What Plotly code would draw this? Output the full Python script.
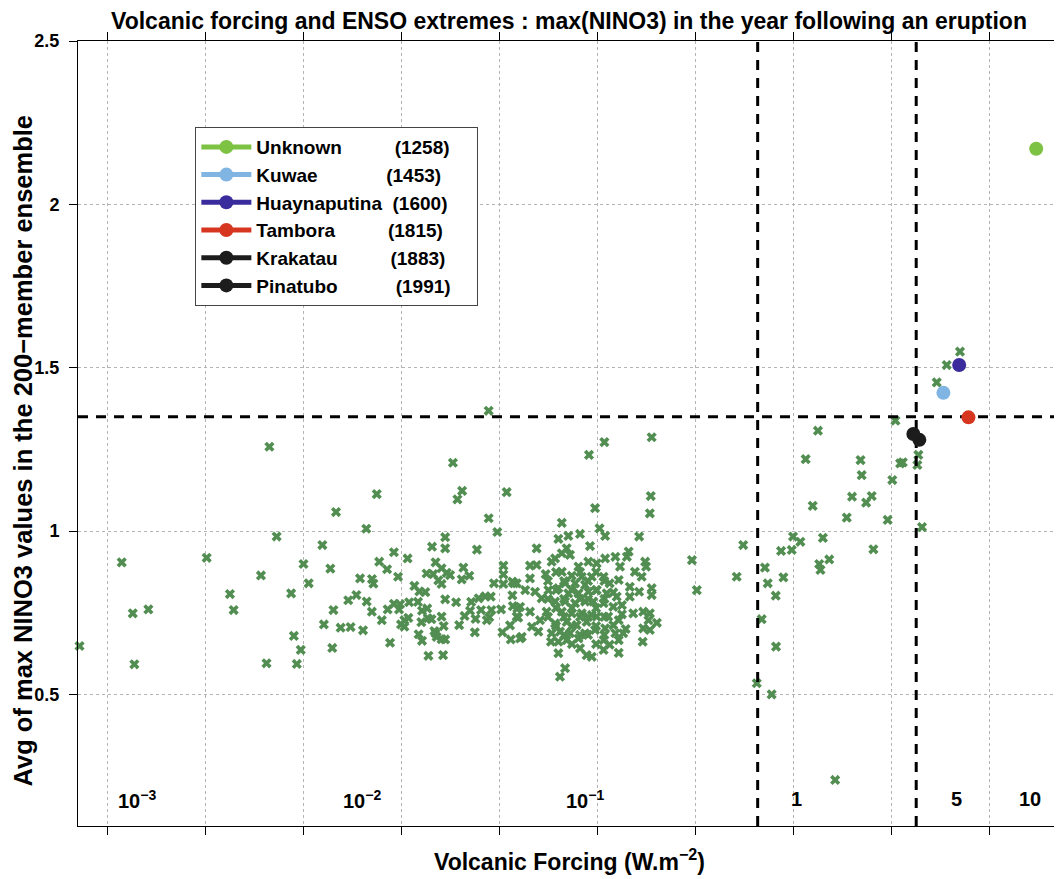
import numpy as np
import plotly.graph_objects as go

# ---------------- data ----------------
# Green crosses: volcanic forcing (W m-2) and average max NINO3
forcing = [
    # low-forcing sparse points
    0.00213, 0.00232, 0.000376, 0.00102, 0.00193, 0.00134, 0.000428, 0.000514, 0.00140, 0.000229, 0.000436, 0.00206,
    # 10^-2.5 .. 10^-1.4 band
    0.0280, 0.0184, 0.0205, 0.0194, 0.00752, 0.00466, 0.00665, 0.0280, 0.0310, 0.0346,
    0.00397, 0.0168, 0.0168, 0.0144, 0.0244, 0.00920, 0.0108, 0.00318, 0.00436, 0.00774,
    0.00849, 0.0150, 0.0161, 0.0171, 0.0178, 0.0135, 0.0146, 0.0208, 0.0223, 0.0204,
    0.0155, 0.0161, 0.00966, 0.00618, 0.00711, 0.00723, 0.00338, 0.00275, 0.0117, 0.0124,
    0.0133, 0.00592, 0.00538, 0.00668, 0.00452, 0.00710, 0.00855, 0.00920, 0.00989, 0.0110,
    0.0122, 0.00977, 0.0128, 0.0136, 0.0168, 0.0191, 0.0228, 0.0249, 0.0269, 0.0287,
    0.0298, 0.0333, 0.0333, 0.0333, 0.0370, 0.0377, 0.0370, 0.0256, 0.0289, 0.0324,
    0.0225, 0.0211, 0.0240, 0.0274, 0.0282, 0.0372, 0.0392, 0.0396, 0.0360, 0.0329,
    0.0363, 0.0405, 0.0238, 0.0198, 0.0161, 0.0165, 0.0143, 0.0127, 0.0137, 0.0109,
    0.0104, 0.0100, 0.0104, 0.00798, 0.00640, 0.00553, 0.00492, 0.00404, 0.00284, 0.00308,
    0.00294, 0.00446, 0.00879, 0.0123, 0.0128, 0.0148, 0.0152, 0.0161, 0.0168, 0.0138,
    0.0164, 0.0150,
    # dense cloud 0.04 .. 0.1
    0.0910, 0.0977, 0.0661, 0.0819, 0.0714, 0.0635, 0.0921, 0.0492, 0.0700, 0.0661,
    0.0728, 0.0611, 0.0587, 0.0455, 0.0492, 0.0804, 0.0903, 0.0661, 0.0547, 0.0455,
    0.0743, 0.0836, 0.0940, 0.0687, 0.0773, 0.0869, 0.0430, 0.0483, 0.0565, 0.0635,
    0.0714, 0.0804, 0.0903, 0.0389, 0.0522, 0.0611, 0.0687, 0.0773, 0.0869, 0.0957,
    0.0405, 0.0455, 0.0553, 0.0661, 0.0743, 0.0836, 0.0940, 0.0389, 0.0512, 0.0611,
    0.0700, 0.0787, 0.0885, 0.0465, 0.0413, 0.0502, 0.0587, 0.0647, 0.0728, 0.0869,
    0.0582, 0.0635, 0.0700, 0.0804, 0.0819, 0.0885, 0.0635, 0.0687, 0.0647,
    # solid core of the cloud
    0.0618, 0.0819, 0.0989, 0.0562, 0.0679, 0.0900, 0.109, 0.0618, 0.0745, 0.0989,
    0.0562, 0.0679, 0.0819, 0.0900, 0.109, 0.0618, 0.0745, 0.0989, 0.0562, 0.0679,
    0.0819, 0.0900, 0.109, 0.0618, 0.0745, 0.0989, 0.0679, 0.0819, 0.0900, 0.109,
    0.0745, 0.0989, 0.121, 0.134, 0.121, 0.140, 0.116,
    # dense cloud 0.1 .. 0.2
    0.190, 0.109, 0.188, 0.186, 0.103, 0.110, 0.164, 0.145, 0.142, 0.110,
    0.124, 0.176, 0.178, 0.0996, 0.156, 0.131, 0.169, 0.190, 0.147, 0.164,
    0.190, 0.147, 0.108, 0.116, 0.129, 0.0996, 0.112, 0.126, 0.108, 0.121,
    0.134, 0.153, 0.172, 0.186, 0.183, 0.202, 0.172, 0.186, 0.0996, 0.114,
    0.129, 0.0977, 0.110, 0.124, 0.136, 0.108, 0.129, 0.171, 0.108, 0.129,
    0.0940,
    # upper branch 0.3 .. 5
    3.33, 1.34, 1.16, 2.21, 2.24, 3.52, 3.63, 3.21, 2.00, 2.52,
    2.36, 1.26, 1.88, 3.04, 1.00, 1.09, 1.42, 0.557, 0.869, 0.985,
    2.57, 0.305, 0.719, 1.36, 1.38, 1.53, 0.516, 0.893, 0.743, 0.323,
    0.816, 0.692, 0.819, 0.653, 0.778, 1.64,
    7.11, 6.08, 5.41, 4.36, 4.31, 4.55,
]
nino3 = [
    1.258, 0.983, 0.904, 0.918, 0.864, 0.807, 0.748, 0.760, 0.758, 0.648, 0.592, 0.595,
    1.368, 1.209, 1.123, 1.097, 1.113, 1.058, 1.007, 1.039, 0.997, 1.119,
    0.957, 0.981, 0.947, 0.952, 0.943, 0.935, 0.916, 0.899, 0.885, 0.906,
    0.883, 0.904, 0.886, 0.872, 0.865, 0.870, 0.868, 0.888, 0.863, 0.852,
    0.849, 0.838, 0.860, 0.855, 0.853, 0.839, 0.840, 0.809, 0.832, 0.815,
    0.813, 0.804, 0.788, 0.784, 0.758, 0.753, 0.760, 0.777, 0.776, 0.782,
    0.783, 0.760, 0.756, 0.763, 0.791, 0.782, 0.783, 0.794, 0.800, 0.799,
    0.840, 0.894, 0.867, 0.838, 0.845, 0.840, 0.803, 0.758, 0.758, 0.760,
    0.756, 0.740, 0.731, 0.727, 0.736, 0.770, 0.763, 0.735, 0.711, 0.690,
    0.668, 0.671, 0.690, 0.712, 0.738, 0.709, 0.730, 0.721, 0.733, 0.734,
    0.727, 0.714, 0.707, 0.727, 0.696, 0.706, 0.704, 0.714, 0.679, 0.636,
    0.593, 0.642, 0.658, 0.684, 0.664, 0.694, 0.676, 0.669, 0.668, 0.618,
    0.620, 0.687,
    1.233, 1.070, 1.025, 0.991, 0.985, 0.976, 0.954, 0.947, 0.947, 0.932,
    0.927, 0.916, 0.906, 0.894, 0.896, 0.891, 0.906, 0.875, 0.868, 0.855,
    0.863, 0.860, 0.860, 0.840, 0.840, 0.835, 0.819, 0.814, 0.819, 0.825,
    0.809, 0.809, 0.814, 0.840, 0.794, 0.784, 0.784, 0.779, 0.784, 0.784,
    0.768, 0.753, 0.753, 0.753, 0.748, 0.748, 0.743, 0.738, 0.727, 0.717,
    0.722, 0.712, 0.722, 0.707, 0.676, 0.692, 0.687, 0.692, 0.687, 0.687,
    0.661, 0.661, 0.666, 0.671, 0.641, 0.620, 0.626, 0.580, 0.554,
    0.874, 0.874, 0.874, 0.847, 0.847, 0.847, 0.847, 0.819, 0.819, 0.819,
    0.792, 0.792, 0.792, 0.792, 0.792, 0.764, 0.764, 0.764, 0.737, 0.737,
    0.737, 0.737, 0.737, 0.709, 0.709, 0.709, 0.682, 0.682, 0.682, 0.682,
    0.654, 0.654, 0.812, 0.745, 0.712, 0.700, 0.652,
    1.287, 1.272, 1.107, 1.054, 1.008, 0.985, 0.983, 0.937, 0.921, 0.916,
    0.921, 0.906, 0.891, 0.901, 0.875, 0.891, 0.860, 0.825, 0.829, 0.814,
    0.804, 0.799, 0.860, 0.840, 0.850, 0.819, 0.809, 0.799, 0.779, 0.768,
    0.773, 0.748, 0.753, 0.748, 0.727, 0.719, 0.702, 0.697, 0.738, 0.738,
    0.727, 0.697, 0.702, 0.687, 0.687, 0.666, 0.666, 0.661, 0.636, 0.627,
    0.615,
    1.338, 1.307, 1.220, 1.217, 1.171, 1.207, 1.210, 1.156, 1.105, 1.107,
    1.087, 1.077, 1.041, 1.034, 0.983, 0.967, 0.979, 0.957, 0.939, 0.942,
    0.944, 0.911, 0.888, 0.899, 0.881, 0.913, 0.860, 0.858, 0.840, 0.819,
    0.802, 0.730, 0.646, 0.534, 0.500, 0.238,
    1.549, 1.508, 1.455, 1.233, 1.202, 1.012,
]

# Named eruptions
eruption_names = ["Unknown", "Kuwae", "Huaynaputina", "Tambora", "Krakatau", "Pinatubo"]
eruption_years = [1258, 1453, 1600, 1815, 1883, 1991]
eruption_forcing = [17.4, 5.85, 7.04, 7.85, 4.41, 4.11]
eruption_nino3 = [2.170, 1.423, 1.508, 1.348, 1.279, 1.297]
eruption_colors = ["#7DC243", "#80B4E2", "#3A2C9C", "#D6361F", "#1C1C1C", "#1C1C1C"]
legend_pad = [10, 13, 2, 10, 10, 11]   # non-breaking spaces between name and year

# Threshold lines
threshold_forcing = [0.66, 4.25]
threshold_nino3 = 1.35

# Axis labels drawn inside the plot at the bottom
inner_tick_text = ["10<sup>\u22123</sup>", "10<sup>\u22122</sup>", "10<sup>\u22121</sup>", "1", "5", "10"]
y_tick_values = [0.5, 1, 1.5, 2, 2.5]
y_tick_text = ["0.5", "1", "1.5", "2", "2.5"]
x_tick_exponents = [-3.5, -3.0, -2.5, -2.0, -1.5, -1.0, -0.5, 0.0, 0.5, 1.0]

# ---------------- figure ----------------
FONT = "Liberation Sans, Arial, Helvetica, sans-serif"
X_RANGE_LOG = [-3.648, 1.362]
Y_RANGE = [0.097, 2.5]

fig = go.Figure()

fig.add_trace(go.Scatter(
    x=forcing, y=nino3, mode="markers", showlegend=False, cliponaxis=False,
    marker=dict(symbol="x", size=9, color="rgb(82,142,82)", line=dict(width=0)),
    hoverinfo="x+y",
))

# dashed threshold lines (as data traces)
x_lo, x_hi = 10 ** X_RANGE_LOG[0], 10 ** X_RANGE_LOG[1]
dash_style = dict(color="black", width=3, dash="10px,8px")
for xv in threshold_forcing:
    fig.add_trace(go.Scatter(x=[xv, xv], y=Y_RANGE, mode="lines", line=dash_style,
                             showlegend=False, hoverinfo="skip"))
fig.add_trace(go.Scatter(x=[x_lo, x_hi], y=[threshold_nino3, threshold_nino3], mode="lines",
                         line=dash_style, showlegend=False, hoverinfo="skip"))

for name, yr, fx, ny, col, pad in zip(eruption_names, eruption_years, eruption_forcing,
                                      eruption_nino3, eruption_colors, legend_pad):
    fig.add_trace(go.Scatter(
        x=[fx], y=[ny], mode="lines+markers",
        name=name + "\u00a0" * pad + "(" + str(yr) + ")" + "\u00a0" * 4,
        line=dict(color=col, width=5),
        marker=dict(symbol="circle", size=14, color=col),
        cliponaxis=False,
    ))

grid = dict(showgrid=True, gridcolor="#b4b4b4", griddash="dot", gridwidth=1)

fig.update_xaxes(
    type="log", range=X_RANGE_LOG,
    tickvals=[10 ** e for e in x_tick_exponents], showticklabels=False,
    ticks="outside", ticklen=8, tickwidth=1, tickcolor="black",
    showline=True, linecolor="black", linewidth=1, mirror="ticks",
    zeroline=False, **grid,
)
fig.update_yaxes(
    range=Y_RANGE, tickvals=y_tick_values, ticktext=y_tick_text,
    ticks="outside", ticklen=8, tickwidth=1, tickcolor="black",
    ticklabelstandoff=6,
    tickfont=dict(family=FONT, size=18, color="black", weight="bold"),
    showline=True, linecolor="black", linewidth=1, mirror=True,
    zeroline=False, **grid,
)

annotations = []
inner_tick_pos = [-3.347, -2.199, -1.061, 0.02, 0.832, 1.209]   # log10 positions of the inner labels
for txt, pos in zip(inner_tick_text, inner_tick_pos):
    annotations.append(dict(
        x=pos, y=0.179, xref="x", yref="y", text=txt, showarrow=False,
        font=dict(family=FONT, size=20, color="black", weight="bold"),
        xanchor="center", yanchor="middle",
    ))
annotations.append(dict(
    x=0.5, y=0, xref="paper", yref="paper", yanchor="top", yshift=-17,
    text="Volcanic Forcing (W.m<sup>\u22122</sup>)", showarrow=False,
    font=dict(family=FONT, size=23, color="black", weight="bold"),
))
annotations.append(dict(
    x=0, y=0.5, xref="paper", yref="paper", xanchor="center", yanchor="middle",
    xshift=-56, yshift=-17, textangle=-90,
    text="Avg of max NINO3 values in the 200\u2212member ensemble", showarrow=False,
    font=dict(family=FONT, size=25.5, color="black", weight="bold"),
))

# the page body adds an 8px margin, so the figure is laid out 8px up/left of the target
fig.update_layout(
    width=1054, height=871,
    margin=dict(l=70, r=2, t=33, b=53),
    paper_bgcolor="white", plot_bgcolor="white",
    title=dict(
        text="Volcanic forcing and ENSO extremes : max(NINO3) in the year following an eruption",
        x=0.5, xref="paper", y=0.994, yref="container", yanchor="top",
        font=dict(family=FONT, size=23, color="black", weight="bold"),
    ),
    legend=dict(
        x=0.1195, y=0.8904, xanchor="left", yanchor="top",
        bgcolor="white", bordercolor="#444", borderwidth=1,
        font=dict(family=FONT, size=19, color="black", weight="bold"),
        itemwidth=50, tracegroupgap=0,
    ),
    annotations=annotations,
    showlegend=True,
)

fig.write_html("out.html")
